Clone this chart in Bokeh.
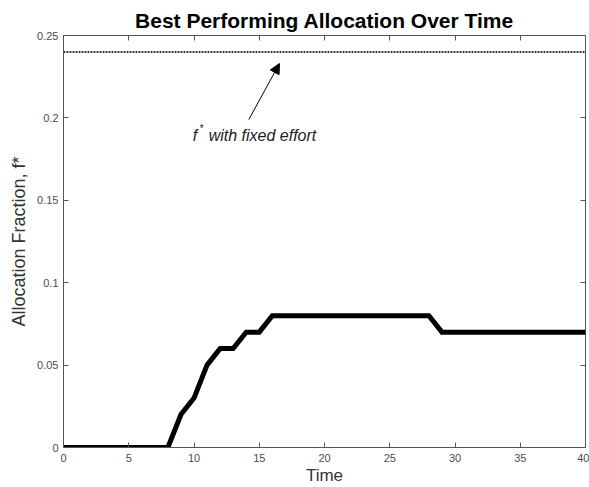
from bokeh.plotting import figure
from bokeh.models import Range1d, LinearAxis, Arrow, NormalHead, Label, FixedTicker
from bokeh.embed import file_html
from bokeh.resources import INLINE

# data
time = list(range(0, 41))
alloc = [0, 0, 0, 0, 0, 0, 0, 0, 0, 0.02, 0.03, 0.05, 0.06, 0.06, 0.07, 0.07,
         0.08, 0.08, 0.08, 0.08, 0.08, 0.08, 0.08, 0.08, 0.08, 0.08, 0.08, 0.08, 0.08,
         0.07, 0.07, 0.07, 0.07, 0.07, 0.07, 0.07, 0.07, 0.07, 0.07, 0.07, 0.07]
fixed_x = [0, 40]
fixed_y = [0.24, 0.24]
x_ticks = [0, 5, 10, 15, 20, 25, 30, 35, 40]
y_ticks = [0, 0.05, 0.1, 0.15, 0.2, 0.25]
y_tick_labels = ["0", "0.05", "0.1", "0.15", "0.2", "0.25"]
arrow_start = (14.2, 0.199)
arrow_end = (16.55, 0.233)
note_pos = (9.9, 0.184)

FONT = "Liberation Sans"
TICKC = "#4d4d4d"
AXC = "#555555"

p = figure(width=589, height=487, output_backend="svg", toolbar_location=None,
           x_range=Range1d(0, 40), y_range=Range1d(0, 0.25),
           min_border_left=63, min_border_right=4, min_border_top=35, min_border_bottom=39)
p.title.text = "Best Performing Allocation Over Time"
p.title.align = "center"
p.title.text_font = FONT
p.title.text_font_size = "21px"
p.title.text_font_style = "bold"
p.title.text_color = "black"
p.title.standoff = 7

p.grid.visible = False
p.outline_line_color = AXC
p.outline_line_width = 1

p.xaxis.ticker = FixedTicker(ticks=x_ticks)
p.yaxis.ticker = FixedTicker(ticks=y_ticks)
p.yaxis.major_label_overrides = {t: l for t, l in zip(y_ticks, y_tick_labels)}
for ax in (p.xaxis, p.yaxis):
    ax.major_tick_in = 5
    ax.major_tick_out = 0
    ax.minor_tick_in = 0
    ax.minor_tick_out = 0
    ax.axis_line_color = AXC
    ax.major_tick_line_color = AXC
    ax.major_label_text_font = FONT
    ax.major_label_text_font_size = "11px"
    ax.major_label_text_color = TICKC
    ax.axis_label_text_font = FONT
    ax.axis_label_text_font_size = "18px"
    ax.axis_label_text_font_style = "normal"
    ax.axis_label_text_color = "#333333"
p.xaxis.axis_label = "Time"
p.xaxis.axis_label_standoff = 1
p.xaxis.major_label_standoff = 6
p.xaxis.axis_label_text_font_size = "17px"
p.yaxis.axis_label = "Allocation Fraction, f*"
p.yaxis.axis_label_standoff = 5
p.yaxis.major_label_standoff = 5

top = LinearAxis(ticker=FixedTicker(ticks=x_ticks), major_tick_in=5, major_tick_out=0,
                 minor_tick_in=0, minor_tick_out=0, major_label_text_font_size="1px",
                 major_label_text_color=None, major_label_standoff=0,
                 axis_line_color=None, major_tick_line_color=AXC)
right = LinearAxis(ticker=FixedTicker(ticks=y_ticks), major_tick_in=5, major_tick_out=0,
                   minor_tick_in=0, minor_tick_out=0, major_label_text_font_size="1px",
                   major_label_text_color=None, major_label_standoff=0,
                   axis_line_color=None, major_tick_line_color=AXC)
p.add_layout(top, "above")
p.add_layout(right, "right")

p.line(fixed_x, fixed_y, line_color="black", line_width=1.5, line_dash="2 1")
p.line(time, alloc, line_color="black", line_width=5, line_join="miter")

p.add_layout(Arrow(end=NormalHead(size=10, fill_color="black", line_color="black"),
                   x_start=arrow_start[0], y_start=arrow_start[1],
                   x_end=arrow_end[0], y_end=arrow_end[1],
                   line_color="black", line_width=1))

p.add_layout(Label(x=note_pos[0], y=note_pos[1], text="f", text_font=FONT,
                   text_font_size="16px", text_font_style="italic", text_color="#222222"))
p.add_layout(Label(x=note_pos[0], y=note_pos[1], x_offset=7, y_offset=10, text="*",
                   text_font=FONT, text_font_size="10px", text_color="#222222"))
p.add_layout(Label(x=note_pos[0], y=note_pos[1], x_offset=16, text="with fixed effort",
                   text_font=FONT, text_font_size="16px", text_font_style="italic",
                   text_color="#222222"))

open("out.html", "w").write(file_html(p, INLINE))
